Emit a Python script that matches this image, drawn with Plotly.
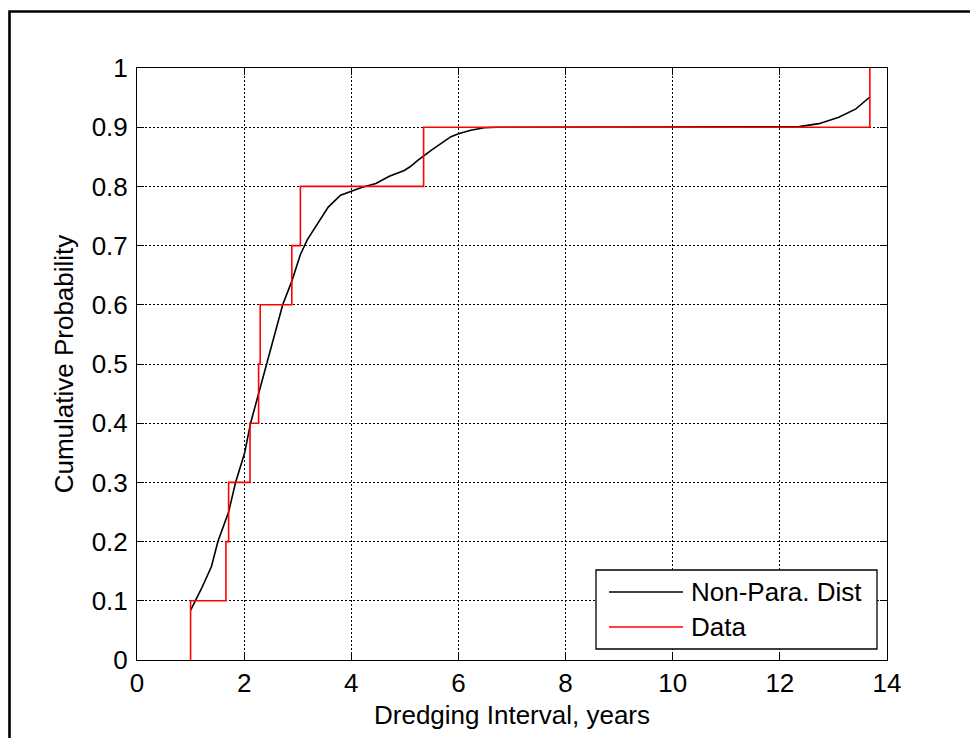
import plotly.graph_objects as go

# ---------------- data ----------------
# Observed dredging intervals (years), sorted -> empirical CDF (red step)
data_intervals = [1.00, 1.66, 1.71, 2.11, 2.27, 2.30, 2.89, 3.05, 5.35, 13.68]

# Non-parametric (kernel smoothed) CDF
np_x = [1.00, 1.20, 1.39, 1.51, 1.71, 1.84, 2.01, 2.12, 2.24, 2.42, 2.55, 2.72,
        2.89, 3.05, 3.18, 3.32, 3.57, 3.80, 4.00, 4.19, 4.46, 4.71, 4.99, 5.11,
        5.24, 5.49, 5.86, 6.00, 6.23, 6.48, 6.73, 8.00, 10.00, 12.00, 12.36,
        12.73, 13.10, 13.42, 13.68]
np_y = [0.084, 0.120, 0.158, 0.200, 0.250, 0.300, 0.350, 0.400, 0.440, 0.500,
        0.545, 0.600, 0.640, 0.685, 0.710, 0.730, 0.765, 0.785, 0.792, 0.798,
        0.805, 0.817, 0.827, 0.834, 0.844, 0.861, 0.884, 0.889, 0.895, 0.899,
        0.900, 0.900, 0.900, 0.900, 0.901, 0.906, 0.917, 0.931, 0.951]

x_ticks = [0, 2, 4, 6, 8, 10, 12, 14]
y_ticks = [0, 0.1, 0.2, 0.3, 0.4, 0.5, 0.6, 0.7, 0.8, 0.9, 1]
y_tick_labels = ["0", "0.1", "0.2", "0.3", "0.4", "0.5", "0.6", "0.7", "0.8", "0.9", "1"]

legend_names = ["Non-Para. Dist", "Data"]

# build the empirical CDF stairs from the data
n = len(data_intervals)
stair_x = list(data_intervals) + [data_intervals[-1]]
stair_y = [i / n for i in range(n + 1)]

FONT = "Liberation Sans, Arial, sans-serif"
FS = 26

fig = go.Figure()
fig.add_trace(go.Scatter(x=np_x, y=np_y, mode="lines", name=legend_names[0],
                         line=dict(color="black", width=1.6), showlegend=False))
fig.add_trace(go.Scatter(x=stair_x, y=stair_y, mode="lines", name=legend_names[1],
                         line=dict(color="#ff0000", width=1.6, shape="vh"),
                         showlegend=False))

axis_common = dict(
    showline=True, linecolor="black", linewidth=1, mirror="ticks",
    ticks="inside", ticklen=7, tickcolor="black", tickwidth=1,
    showgrid=True, gridcolor="black", gridwidth=1, griddash="2px,2px",
    zeroline=False, tickfont=dict(family=FONT, size=FS, color="black"),
)

fig.update_xaxes(range=[0, 14], tickvals=x_ticks, ticktext=[str(v) for v in x_ticks],
                 title=dict(text="Dredging Interval, years",
                            font=dict(family=FONT, size=FS, color="black"), standoff=8),
                 **axis_common)
fig.update_yaxes(range=[0, 1], tickvals=y_ticks, ticktext=y_tick_labels,
                 ticklabelstandoff=3,
                 title=dict(text="Cumulative Probability",
                            font=dict(family=FONT, size=FS, color="black"), standoff=10),
                 **axis_common)

# plot-area pixel geometry helpers (for the frame & legend placement)
L, R, T, B = 137, 83, 68, 78
W, H = 970, 738
PW, PH = W - L - R, H - T - B


def px(xp):
    return (xp - L) / PW


def py(yp):
    return (H - B - yp) / PH


shapes = [
    # outer figure frame (top & left visible)
    dict(type="rect", xref="paper", yref="paper", x0=px(9.5), x1=px(1100),
         y0=py(900), y1=py(11.5), line=dict(color="black", width=2.6),
         fillcolor="rgba(0,0,0,0)", layer="above"),
    # legend box
    dict(type="rect", xref="paper", yref="paper", x0=px(596), x1=px(877),
         y0=py(649), y1=py(570), line=dict(color="black", width=1.3),
         fillcolor="white", layer="above"),
    dict(type="line", xref="paper", yref="paper", x0=px(609), x1=px(683),
         y0=py(592), y1=py(592), line=dict(color="black", width=1.3), layer="above"),
    dict(type="line", xref="paper", yref="paper", x0=px(609), x1=px(683),
         y0=py(627), y1=py(627), line=dict(color="#ff0000", width=1.3), layer="above"),
]
annotations = [
    dict(xref="paper", yref="paper", x=px(689), y=py(592), text=legend_names[0],
         showarrow=False, xanchor="left", yanchor="middle",
         font=dict(family=FONT, size=FS, color="black")),
    dict(xref="paper", yref="paper", x=px(689), y=py(627), text=legend_names[1],
         showarrow=False, xanchor="left", yanchor="middle",
         font=dict(family=FONT, size=FS, color="black")),
]

fig.update_layout(
    width=W, height=H,
    margin=dict(l=L, r=R, t=T, b=B, pad=0),
    paper_bgcolor="white", plot_bgcolor="white",
    font=dict(family=FONT, size=FS, color="black"),
    shapes=shapes, annotations=annotations,
    showlegend=False,
)

fig.write_html("out.html")
